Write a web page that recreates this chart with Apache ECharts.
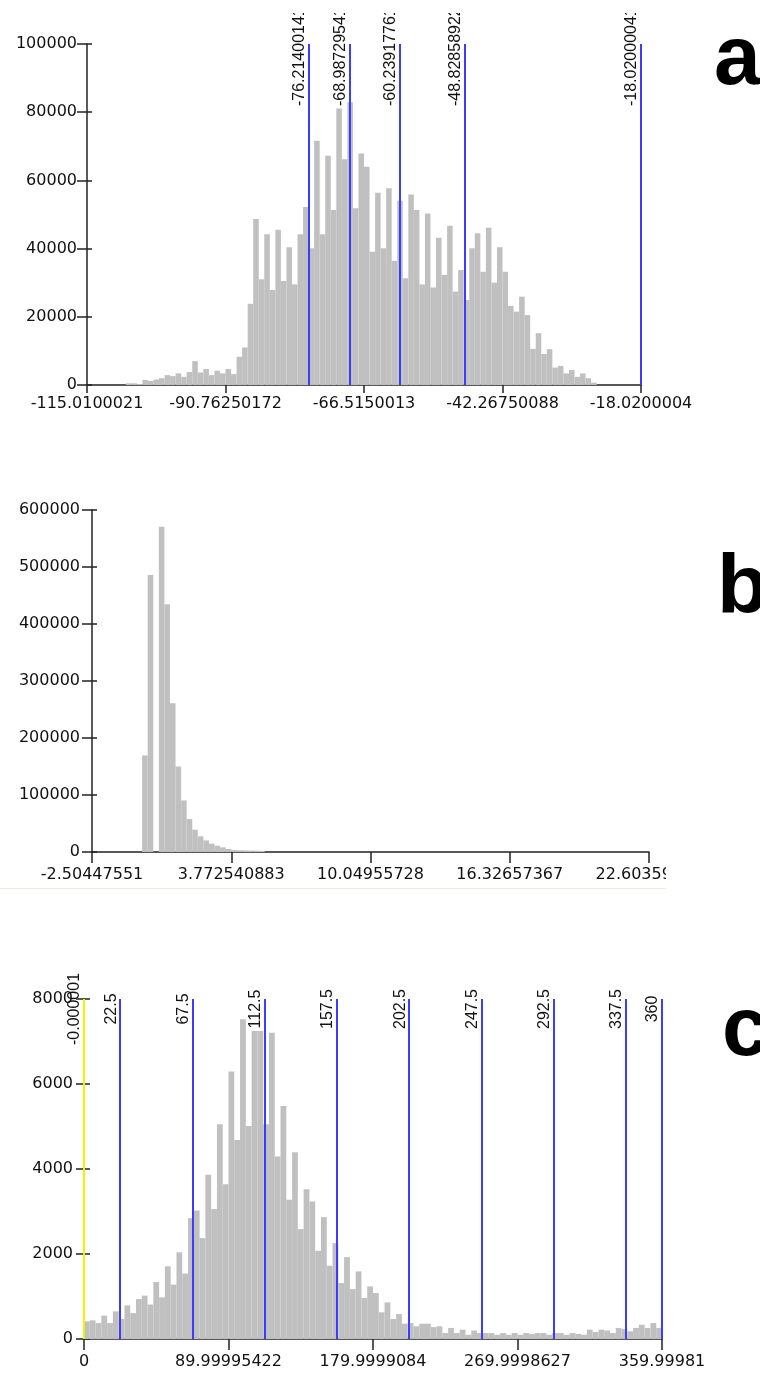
<!DOCTYPE html>
<html>
<head>
<meta charset="utf-8">
<script src="https://cdn.jsdelivr.net/npm/echarts@6/dist/echarts.min.js"></script>
<style>
  html, body { margin: 0; padding: 0; background: #fff; }
  #chart { width: 760px; height: 1373px; }
</style>
</head>
<body>
<div id="chart"></div>
<script>
// ---- panel a ----
const aMin = -115.0100021
const aMax = -18.0200004
const aCounts = [
  0, 0, 0, 0, 0, 0, 0, 500, 500, 300,
  1500, 1200, 1600, 2000, 2900, 2600, 3400, 2400, 3800, 7000,
  3700, 4700, 2900, 4200, 3400, 4700, 3200, 8300, 11000, 23800,
  48700, 31000, 44200, 27900, 45500, 30500, 40400, 29500, 44200, 52200,
  40100, 71600, 44200, 67200, 51300, 81100, 66200, 82900, 51800, 67900,
  64000, 39100, 56400, 40100, 57700, 36400, 54000, 31300, 55900, 51300,
  29500, 50300, 28600, 43200, 32300, 46700, 27400, 33700, 24900, 40100,
  44500, 33200, 46100, 30000, 40400, 33200, 23200, 21500, 25900, 20500,
  10600, 15200, 9100, 10500, 5100, 5600, 3400, 4400, 2400, 3400,
  2000, 700, 0, 0, 0, 0, 0, 0, 0, 0
]
const aTicks = [-115.0100021, -90.76250172, -66.5150013, -42.26750088, -18.0200004]
const aTickLabels = ['-115.0100021', '-90.76250172', '-66.5150013', '-42.26750088', '-18.0200004']
const aCuts = [-76.2140014, -68.9872954, -60.2391776, -48.8285892, -18.0200004]
const aCutLabels = ['-76.21400141', '-68.98729541', '-60.23917761', '-48.82858922', '-18.02000041']

// ---- panel b ----
const bMin = -2.50447551
const bMax = 22.60359006
const bCounts = [
  0, 0, 0, 0, 0, 0, 0, 0, 0, 169400,
  486000, 0, 570700, 434600, 261100, 150100, 90500, 57800, 39100, 27500,
  20400, 14600, 11100, 8200, 5300, 3500, 3000, 2800, 2600, 2400,
  2000, 0, 0, 0, 0, 0, 0, 0, 0, 0,
  0, 0, 0, 0, 0, 0, 0, 0, 0, 0,
  0, 0, 0, 0, 0, 0, 0, 0, 0, 0,
  0, 0, 0, 0, 0, 0, 0, 0, 0, 0,
  0, 0, 0, 0, 0, 0, 0, 0, 0, 0,
  0, 0, 0, 0, 0, 0, 0, 0, 0, 0,
  0, 0, 0, 0, 0, 0, 0, 0, 0, 0
]
const bTicks = [-2.50447551, 3.772540883, 10.04955728, 16.32657367, 22.60359006]
const bTickLabels = ['-2.50447551', '3.772540883', '10.04955728', '16.32657367', '22.60359006']

// ---- panel c ----
const cMin = -0.000001
const cMax = 360
const cCounts = [
  415, 440, 375, 550, 375, 650, 470, 790, 610, 940,
  1020, 810, 1340, 980, 1710, 1280, 2040, 1540, 2844, 3024,
  2374, 3863, 3056, 5054, 3643, 6292, 4685, 7522, 5014, 7247,
  7247, 5054, 7208, 4294, 5485, 3275, 4395, 2586, 3526, 3236,
  2076, 2868, 1724, 2256, 1316, 1927, 1175, 1590, 964, 1238,
  1081, 627, 862, 470, 588, 360, 375, 300, 360, 360,
  280, 300, 140, 260, 140, 220, 100, 200, 140, 140,
  140, 100, 140, 100, 140, 100, 140, 120, 140, 140,
  100, 140, 140, 100, 140, 120, 100, 220, 165, 220,
  200, 140, 260, 235, 180, 260, 335, 260, 375, 260
]
const cTicks = [0, 89.99995422, 179.9999084, 269.9998627, 359.99981]
const cTickLabels = ['0', '89.99995422', '179.9999084', '269.9998627', '359.99981']
const cCuts = [22.5, 67.5, 112.5, 157.5, 202.5, 247.5, 292.5, 337.5, 360]
const cCutLabels = ['22.5', '67.5', '112.5', '157.5', '202.5', '247.5', '292.5', '337.5', '360']
const cStart = -0.000001
const cStartLabel = '-0.000001'

const blue = '#3c3cff'
const barGray = '#c0c0c0'
const axisStroke = { color: '#222', width: 1.5 }
const tickFont = { fontFamily: 'DejaVu Sans', fontSize: 16, color: '#111' }
const cutFont = { fontFamily: 'Liberation Sans', fontSize: 16, color: '#111' }

// bins [lo, hi, count] spread evenly over the axis range
function toBins(min, max, counts) {
  const w = (max - min) / counts.length
  return counts.map((c, i) => [min + i * w, min + (i + 1) * w, c])
}

function renderBar(params, api) {
  const top = api.coord([api.value(0), api.value(2)])
  const bottom = api.coord([api.value(1), 0])
  return {
    type: 'rect',
    shape: { x: top[0], y: top[1], width: bottom[0] - top[0], height: bottom[1] - top[1] },
    style: { fill: barGray }
  }
}

function pickLabel(ticks, labels) {
  return (v) => {
    let best = 0
    ticks.forEach((t, i) => { if (Math.abs(t - v) < Math.abs(ticks[best] - v)) best = i })
    return labels[best]
  }
}

function xAxis(grid, min, max, ticks, labels, tickLen, margin) {
  return {
    gridIndex: grid, type: 'value', min: min, max: max,
    axisLine: { show: true, onZero: false, lineStyle: axisStroke },
    axisTick: { show: true, length: tickLen, customValues: ticks, lineStyle: axisStroke },
    axisLabel: { customValues: ticks, margin: margin, formatter: pickLabel(ticks, labels), ...tickFont },
    splitLine: { show: false }
  }
}

// outer ticks + labels, then a second axis (same side) for the short inner half of each tick
function yAxes(grid, max, step, outLen, inLen, margin) {
  return [
    {
      gridIndex: grid, type: 'value', position: 'left', min: 0, max: max, interval: step,
      axisLine: { show: true, onZero: false, lineStyle: axisStroke },
      axisTick: { show: true, length: outLen, lineStyle: axisStroke },
      axisLabel: { margin: margin, formatter: (v) => String(v), ...tickFont },
      splitLine: { show: false }
    },
    {
      gridIndex: grid, type: 'value', position: 'left', min: 0, max: max, interval: step,
      axisLine: { show: false, onZero: false },
      axisTick: { show: true, inside: true, length: inLen, lineStyle: axisStroke },
      axisLabel: { show: false },
      splitLine: { show: false }
    }
  ]
}

function cutLines(values, names, yTop, color) {
  return values.map((v, i) => [
    { coord: [v, 0], name: names[i], lineStyle: { color: color } },
    { coord: [v, yTop] }
  ])
}

const chart = echarts.init(document.getElementById('chart'))

chart.setOption({
  animation: false,
  backgroundColor: '#fff',
  grid: [
    { left: 87, top: 44, width: 554, height: 341 },
    { left: 92, top: 510, width: 557, height: 342 },
    { left: 84, top: 999, width: 578, height: 340 }
  ],
  xAxis: [
    xAxis(0, aMin, aMax, aTicks, aTickLabels, 8, 11),
    xAxis(1, bMin, bMax, bTicks, bTickLabels, 11, 15),
    xAxis(2, cMin, cMax, cTicks, cTickLabels, 11, 15)
  ],
  yAxis: [
    ...yAxes(0, 100000, 20000, 10, 5, 10),
    ...yAxes(1, 600000, 100000, 10, 5, 12),
    ...yAxes(2, 8000, 2000, 8, 6, 11)
  ],
  series: [
    {
      type: 'custom', xAxisIndex: 0, yAxisIndex: 0, silent: true,
      renderItem: renderBar, encode: { x: [0, 1], y: 2 },
      data: toBins(aMin, aMax, aCounts),
      markLine: {
        silent: true, symbol: ['none', 'none'],
        lineStyle: { type: 'solid', width: 2 },
        label: { show: true, position: 'insideEndTop', align: 'left', distance: [62, 1], formatter: (p) => p.name, ...cutFont },
        data: cutLines(aCuts, aCutLabels, 100000, blue)
      }
    },
    {
      type: 'custom', xAxisIndex: 1, yAxisIndex: 2, silent: true,
      renderItem: renderBar, encode: { x: [0, 1], y: 2 },
      data: toBins(bMin, bMax, bCounts)
    },
    {
      type: 'custom', xAxisIndex: 2, yAxisIndex: 4, silent: true,
      renderItem: renderBar, encode: { x: [0, 1], y: 2 },
      data: toBins(cMin, cMax, cCounts),
      markLine: {
        silent: true, symbol: ['none', 'none'],
        lineStyle: { type: 'solid', width: 2 },
        label: { show: true, position: 'insideEndTop', align: 'center', distance: [10, 1], formatter: (p) => p.name, ...cutFont },
        data: cutLines([cStart], [cStartLabel], 8000, '#f2f200').concat(cutLines(cCuts, cCutLabels, 8000, blue))
      }
    }
  ],
  graphic: [
    // the cut labels of panel a are clipped at the top, as in the source image
    { type: 'rect', z: 100, shape: { x: 280, y: 0, width: 380, height: 13 }, style: { fill: '#fff' } },
    // panel b was cropped on the right
    { type: 'rect', z: 100, shape: { x: 666, y: 858, width: 94, height: 29 }, style: { fill: '#fff' } },
    { type: 'line', z: 100, shape: { x1: 0, y1: 888.5, x2: 666, y2: 888.5 }, style: { stroke: '#eeecdc', lineWidth: 1 } },
    { type: 'text', z: 100, x: 714, y: 19, style: { text: 'a', font: 'bold 84px "Liberation Sans", Arial', fill: '#000', verticalAlign: 'top' } },
    { type: 'text', z: 100, x: 717, y: 548, style: { text: 'b', font: 'bold 84px "Liberation Sans", Arial', fill: '#000', verticalAlign: 'top' } },
    { type: 'text', z: 100, x: 722, y: 990, style: { text: 'c', font: 'bold 84px "Liberation Sans", Arial', fill: '#000', verticalAlign: 'top' } }
  ]
})
</script>
</body>
</html>
